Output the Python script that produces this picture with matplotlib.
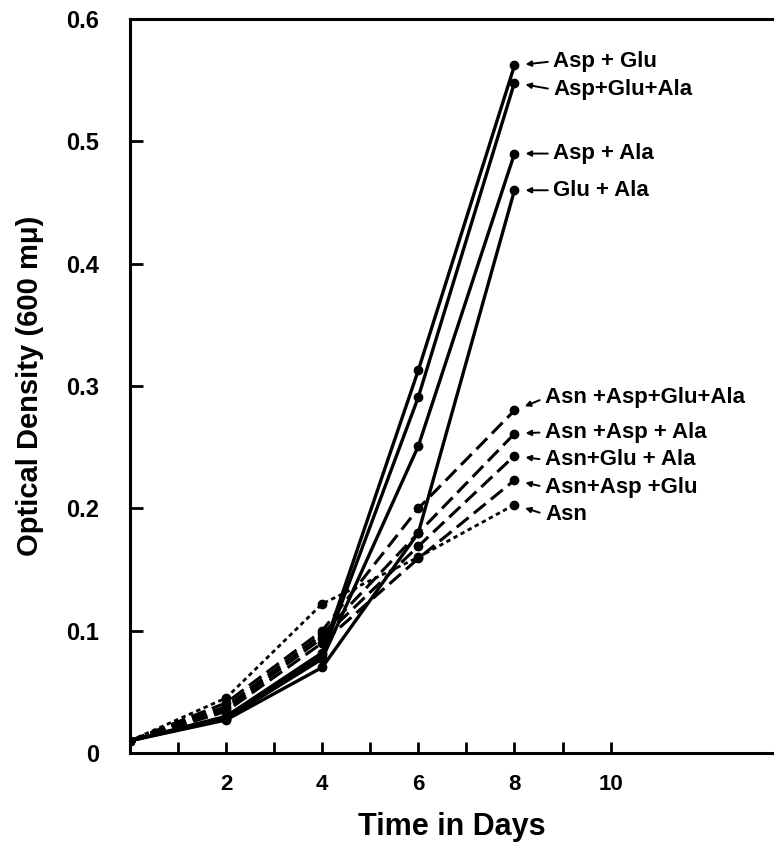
import matplotlib
matplotlib.use("Agg")
import matplotlib.pyplot as plt
from matplotlib import font_manager

# ---------------- data ----------------
days = [0, 2, 4, 6, 8]
series_names = ["Asp + Glu", "Asp+Glu+Ala", "Asp + Ala", "Glu + Ala",
                "Asn +Asp+Glu+Ala", "Asn +Asp + Ala", "Asn+Glu + Ala",
                "Asn+Asp +Glu", "Asn"]
asp_glu = [0.010, 0.030, 0.082, 0.313, 0.562]
asp_glu_ala = [0.010, 0.029, 0.080, 0.291, 0.548]
asp_ala = [0.010, 0.028, 0.077, 0.251, 0.490]
glu_ala = [0.010, 0.027, 0.070, 0.180, 0.460]
asn_asp_glu_ala = [0.010, 0.041, 0.100, 0.200, 0.280]
asn_asp_ala = [0.010, 0.038, 0.097, 0.180, 0.261]
asn_glu_ala = [0.010, 0.036, 0.094, 0.169, 0.243]
asn_asp_glu = [0.010, 0.034, 0.090, 0.159, 0.223]
asn = [0.010, 0.045, 0.122, 0.160, 0.203]
series_values = [asp_glu, asp_glu_ala, asp_ala, glu_ala,
                 asn_asp_glu_ala, asn_asp_ala, asn_glu_ala, asn_asp_glu, asn]
series_kind = ["solid"] * 4 + ["dashed"] * 4 + ["dotted"]

ytick_vals = [0, 0.1, 0.2, 0.3, 0.4, 0.5, 0.6]
ytick_labels = ["0", "0.1", "0.2", "0.3", "0.4", "0.5", "0.6"]
xtick_major = [2, 4, 6, 8, 10]
xtick_labels = ["2", "4", "6", "8", "10"]
xtick_minor = [1, 3, 5, 7, 9]

# ---------------- style ----------------
avail = {f.name for f in font_manager.fontManager.ttflist}
fam = [f for f in ["Liberation Sans Narrow", "DejaVu Sans Condensed", "Liberation Sans", "DejaVu Sans"] if f in avail]
plt.rcParams['font.family'] = fam

styles = {
    "solid": dict(linestyle="-", lw=2.4),
    "dashed": dict(linestyle=(0, (5, 2.2)), lw=2.2),
    "dotted": dict(linestyle=(0, (1.6, 1.3)), lw=2.0),
}
# label text offsets (points) relative to the final data point
label_offsets = [(28, 3), (28, -5), (28, 0), (28, 0),
                 (22, 9), (22, 1), (22, -3), (22, -5), (22, -7)]

fig = plt.figure(figsize=(7.74, 8.42), dpi=100)
ax = fig.add_axes([130/774, 1 - 753/842, 1 - 130/774, (753 - 19)/842])

for name, vals, kind, off in zip(series_names, series_values, series_kind, label_offsets):
    ax.plot(days, vals, color="black", marker="o", markersize=6,
            solid_capstyle="butt", dash_capstyle="butt", **styles[kind])
    ax.annotate(name, xy=(days[-1], vals[-1]), xytext=off, textcoords="offset points",
                fontsize=16, fontweight="bold", va="center", ha="left",
                arrowprops=dict(arrowstyle="-|>", color="black", lw=1.4,
                                mutation_scale=8, shrinkA=2, shrinkB=8,
                                relpos=(0, 0.5)))

ax.set_xlim(0, 13.4)
ax.set_ylim(0, 0.6)
ax.spines["right"].set_visible(False)
for s in ["left", "bottom", "top"]:
    ax.spines[s].set_linewidth(2.2)

ax.set_yticks(ytick_vals)
ax.set_yticklabels(ytick_labels, fontsize=17, fontweight="bold")
ax.set_xticks(xtick_major)
ax.set_xticklabels(xtick_labels, fontsize=16, fontweight="bold")
ax.set_xticks(xtick_minor, minor=True)
ax.tick_params(axis="y", direction="in", length=9, width=2, pad=22)
ax.tick_params(axis="x", which="both", direction="in", length=8, width=2, pad=15)

ax.set_xlabel("Time in Days", fontsize=22, fontweight="bold", labelpad=12)
ax.set_ylabel("Optical Density (600 m\u03bc)", fontsize=21, fontweight="bold", labelpad=16)

fig.savefig("out.png", dpi=100)
